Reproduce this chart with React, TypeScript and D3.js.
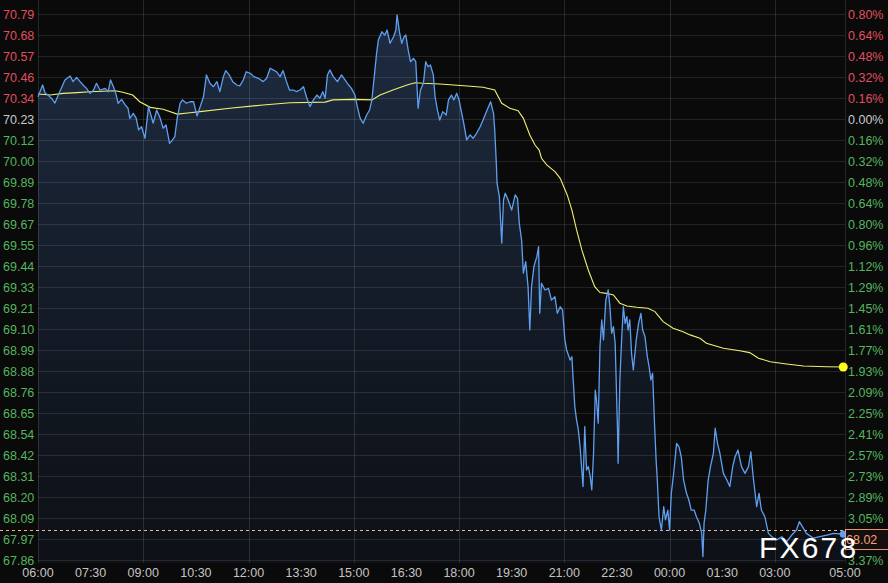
import React from 'react';
import * as d3 from 'd3';

// ---- data ----
const priceMinutes = [0,8,12,17,23,29,33,41,46,55,60,66,72,77,83,89,95,100,106,115,120,124,129,133,137,143,149,154,157,163,168,172,177,183,189,193,197,203,209,214,219,225,230,234,238,243,247,254,260,266,272,283,288,294,300,306,311,317,321,327,333,340,345,351,356,363,369,377,385,391,397,402,408,414,419,425,430,437,442,448,454,459,465,471,477,482,487,491,495,499,505,512,519,525,531,536,542,546,551,556,562,567,571,575,579,582,588,593,597,602,608,612,614,618,622,626,629,633,637,642,646,650,654,659,663,667,671,676,679,683,687,692,698,702,707,711,716,720,724,728,733,739,744,750,756,761,768,774,779,781,784,785,789,791,793,796,799,804,810,816,820,823,827,830,834,838,841,844,848,853,856,858,861,867,873,878,884,888,893,897,901,904,910,913,915,918,921,924,927,932,935,938,941,944,947,950,953,955,958,961,964,967,971,975,978,981,984,987,991,992,995,998,1001,1004,1007,1009,1012,1015,1018,1023,1027,1031,1034,1038,1042,1045,1048,1051,1054,1057,1059,1062,1066,1070,1073,1077,1080,1083,1087,1092,1096,1100,1104,1109,1113,1117,1122,1126,1131,1135,1137,1139,1142,1146,1150,1155,1158,1162,1166,1172,1178,1183,1188,1192,1197,1203,1209,1215,1219,1223,1229,1233,1237,1243,1249,1255,1263,1272,1280,1289,1297,1302,1309,1314,1326,1337,1349,1360,1371,1377];
const priceValues = [70.346,70.409,70.366,70.355,70.338,70.312,70.343,70.400,70.436,70.457,70.427,70.450,70.427,70.409,70.391,70.364,70.382,70.418,70.382,70.391,70.373,70.436,70.400,70.364,70.311,70.332,70.302,70.284,70.230,70.257,70.230,70.168,70.185,70.123,70.293,70.248,70.204,70.275,70.230,70.177,70.194,70.096,70.114,70.132,70.230,70.311,70.329,70.311,70.319,70.319,70.243,70.346,70.463,70.418,70.400,70.427,70.373,70.454,70.486,70.463,70.427,70.409,70.404,70.436,70.480,70.472,70.454,70.445,70.427,70.445,70.499,70.490,70.480,70.454,70.486,70.427,70.382,70.382,70.373,70.382,70.400,70.346,70.293,70.329,70.355,70.338,70.373,70.338,70.463,70.490,70.454,70.427,70.463,70.436,70.409,70.391,70.355,70.293,70.230,70.204,70.248,70.275,70.329,70.454,70.579,70.650,70.695,70.677,70.704,70.633,70.668,70.704,70.785,70.695,70.633,70.668,70.677,70.597,70.534,70.552,70.534,70.284,70.382,70.418,70.534,70.507,70.516,70.463,70.346,70.275,70.221,70.266,70.248,70.329,70.355,70.329,70.364,70.329,70.266,70.204,70.114,70.141,70.123,70.150,70.185,70.221,70.275,70.319,70.257,70.168,69.971,69.882,69.810,69.685,69.560,69.792,69.828,69.792,69.738,69.819,69.801,69.667,69.577,69.399,69.461,69.327,69.094,69.327,69.434,69.488,69.541,69.184,69.345,69.309,69.318,69.255,69.273,69.184,69.219,69.202,69.041,68.987,68.933,68.951,68.837,68.683,68.611,68.558,68.468,68.254,68.576,68.343,68.361,68.316,68.236,68.433,68.772,68.719,68.594,69.005,69.148,69.041,69.255,69.309,69.219,69.077,69.112,69.023,68.558,68.379,68.826,69.041,69.219,69.130,69.166,69.094,69.148,68.969,68.880,69.041,69.130,69.184,69.094,69.058,68.951,68.897,68.826,68.862,68.611,68.397,68.289,68.092,68.021,68.146,68.075,68.128,68.021,68.218,68.325,68.486,68.468,68.414,68.289,68.218,68.182,68.128,68.128,68.092,68.057,68.003,67.878,68.057,68.128,68.289,68.361,68.433,68.567,68.486,68.433,68.325,68.289,68.254,68.361,68.414,68.450,68.361,68.325,68.361,68.441,68.307,68.146,68.218,68.128,68.092,68.003,67.985,67.968,67.985,67.958,67.994,68.021,68.066,68.030,68.003,67.977,67.985,67.994,68.003,68.000,68.020];

const avgMinutes = [0,21,43,67,89,132,145,162,174,192,214,238,260,277,328,385,431,491,504,539,571,585,607,631,645,658,687,734,761,781,793,807,821,830,841,850,857,861,870,884,893,905,913,921,930,941,952,961,972,984,995,1007,1024,1043,1055,1069,1086,1103,1115,1132,1143,1172,1200,1217,1232,1252,1280,1309,1349,1377];
const avgValues = [70.361,70.355,70.364,70.368,70.373,70.378,70.370,70.355,70.319,70.289,70.279,70.253,70.260,70.266,70.284,70.302,70.314,70.317,70.329,70.332,70.329,70.355,70.382,70.409,70.421,70.418,70.414,70.404,70.397,70.382,70.311,70.284,70.271,70.230,70.141,70.087,70.060,70.016,69.980,69.944,69.908,69.819,69.738,69.631,69.524,69.416,69.327,69.295,69.291,69.282,69.238,69.223,69.216,69.211,69.193,69.139,69.104,69.085,69.068,69.050,69.023,68.996,68.983,68.973,68.943,68.924,68.912,68.901,68.897,68.896];

const priceLabels = ['70.79','70.68','70.57','70.46','70.34','70.23','70.12','70.00','69.89','69.78','69.67','69.55','69.44','69.33','69.21','69.10','68.99','68.88','68.76','68.65','68.54','68.42','68.31','68.20','68.09','67.97','67.86'];
const pctLabels = ['0.80%','0.64%','0.48%','0.32%','0.16%','0.00%','0.16%','0.32%','0.48%','0.64%','0.80%','0.96%','1.12%','1.29%','1.45%','1.61%','1.77%','1.93%','2.09%','2.25%','2.41%','2.57%','2.73%','2.89%','3.05%','3.21%','3.37%'];
const zeroIndex = 5;
const hiddenPctIndex = 25; // covered by the last-price box

const timeLabels = ['06:00','07:30','09:00','10:30','12:00','13:30','15:00','16:30','18:00','19:30','21:00','22:30','00:00','01:30','03:00','05:00'];
const timeLabelMinutes = [0,90,180,270,360,450,540,630,720,810,900,990,1080,1170,1260,1380];
const gridMinutes = [0,180,360,540,720,900,1080,1260,1380];

const lastPrice = 68.02;
const lastPriceLabel = '68.02';
const watermark = 'FX678';

const RED = '#e0505c';
const GREEN = '#55b45e';
const NEUTRAL = '#c8c8c8';

export default function App() {
  const left = 38, right = 845, top = 0, bottom = 563;
  const yTop = 70.79, yBot = 67.86;
  const x = d3.scaleLinear().domain([0, 1380]).range([left, right]);
  const y = d3.scaleLinear().domain([yBot, yTop]).range([560, 14]);
  const step = (yTop - yBot) / (priceLabels.length - 1);
  const tickVals = priceLabels.map((_, i) => yTop - i * step);

  const pts = priceMinutes.map((m, i) => [m, priceValues[i]] as [number, number]);
  const avgPts = avgMinutes.map((m, i) => [m, avgValues[i]] as [number, number]);

  const line = d3.line<[number, number]>().x(d => x(d[0])).y(d => y(d[1]));
  const area = d3.area<[number, number]>().x(d => x(d[0])).y0(bottom).y1(d => y(d[1]));

  const colorFor = (i: number) => (i < zeroIndex ? RED : i === zeroIndex ? NEUTRAL : GREEN);
  const font = '"Liberation Sans", Arial, sans-serif';
  const lastAvg = avgPts[avgPts.length - 1];
  const lastPt = pts[pts.length - 1];
  const ly = y(lastPrice);

  return (
    <svg width={888} height={583} style={{ position: 'fixed', left: 0, top: 0, display: 'block' }}>
      <defs>
        <linearGradient id="fillg" gradientUnits="userSpaceOnUse" x1="0" y1="14" x2="0" y2={bottom}>
          <stop offset="0" stopColor="#1e2c42" />
          <stop offset="0.5" stopColor="#141c28" />
          <stop offset="1" stopColor="#0d1016" />
        </linearGradient>
      </defs>
      <rect x={0} y={0} width={888} height={583} fill="#0a0a0b" />
      <path d={area(pts) || ''} fill="url(#fillg)" />
      {tickVals.map((v, i) => (
        <line key={'h' + i} x1={left} x2={right} y1={Math.round(y(v)) + 0.5} y2={Math.round(y(v)) + 0.5} stroke="#ffffff" strokeOpacity={0.1} strokeWidth={1} />
      ))}
      {gridMinutes.map((m, i) => (
        <line key={'v' + i} x1={Math.round(x(m)) + 0.5} x2={Math.round(x(m)) + 0.5} y1={top} y2={bottom} stroke="#ffffff" strokeOpacity={0.12} strokeWidth={1} />
      ))}
      <line x1={0} x2={right} y1={Math.round(ly) + 0.5} y2={Math.round(ly) + 0.5} stroke="#f3b58a" strokeWidth={1} strokeDasharray="3,3" />
      <path d={line(avgPts) || ''} fill="none" stroke="#f0f070" strokeWidth={1.1} />
      <path d={line(pts) || ''} fill="none" stroke="#5f9ff0" strokeWidth={1.3} strokeLinejoin="round" />
      <circle cx={x(lastPt[0])} cy={y(lastPt[1]) + 4} r={3.5} fill="#5f9ff0" />
      <circle cx={x(lastAvg[0])} cy={y(lastAvg[1])} r={4.5} fill="#ffff1a" />
      {priceLabels.map((t, i) => (
        <text key={'l' + i} x={3} y={y(tickVals[i])} dy="0.36em" fill={colorFor(i)} fontFamily={font} fontSize={12.5}>{t}</text>
      ))}
      {pctLabels.map((t, i) => (i === hiddenPctIndex ? null : (
        <text key={'r' + i} x={848} y={y(tickVals[i])} dy="0.36em" fill={colorFor(i)} fontFamily={font} fontSize={12.5}>{t}</text>
      )))}
      {timeLabels.map((t, i) => (
        <text key={'t' + i} x={x(timeLabelMinutes[i])} y={576.5} textAnchor="middle" fill="#c4c4c4" fontFamily={font} fontSize={12.5}>{t}</text>
      ))}
      <rect x={845.5} y={529.5} width={43} height={20} fill="#140e0c" stroke="#e8937a" strokeWidth={1} />
      <text x={846} y={539.5} dy="0.36em" fill="#f2a07f" fontFamily={font} fontSize={12.5}>{lastPriceLabel}</text>
      <text x={759} y={558} fill="#ffffff" fontFamily={font} fontSize={30} letterSpacing={2.2}>{watermark}</text>
    </svg>
  );
}
